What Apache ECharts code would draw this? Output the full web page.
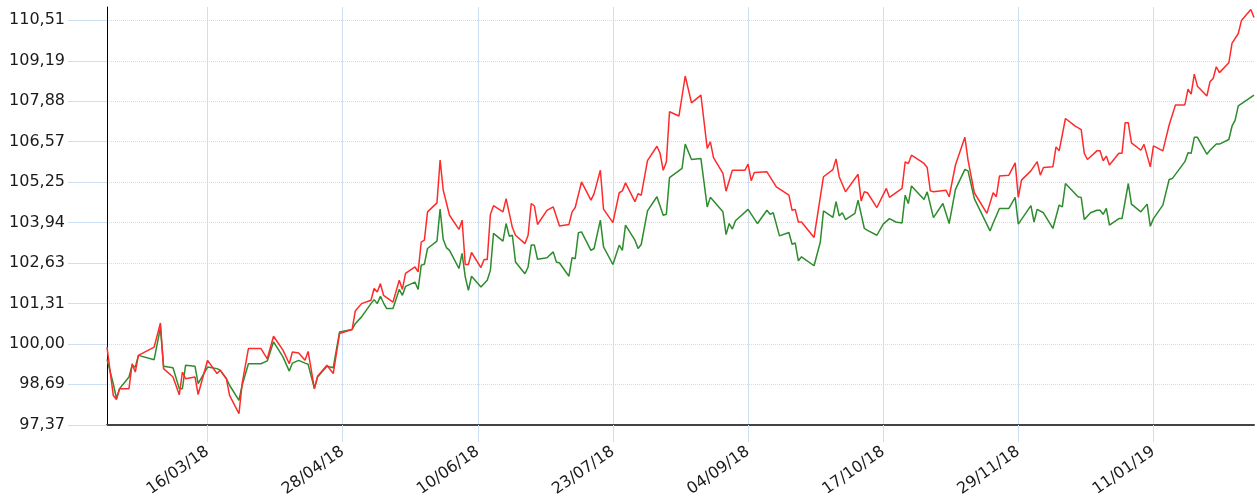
<!DOCTYPE html>
<html>
<head>
<meta charset="utf-8">
<script src="https://cdn.jsdelivr.net/npm/echarts@6/dist/echarts.min.js"></script>
<style>
  html, body { margin: 0; padding: 0; background: #fff; }
  #container { width: 1257px; height: 504px; }
</style>
</head>
<body>
<div id="container"></div>
<script>
// first day shown on the x axis, and how many calendar days the axis spans
var startDate = [2018, 1, 12];
var dayCount = 366;

var xTickLabels = ['16/03/18', '28/04/18', '10/06/18', '23/07/18', '04/09/18', '17/10/18', '29/11/18', '11/01/19'];
var yTickValues = [97.37, 98.69, 100.00, 101.31, 102.63, 103.94, 105.25, 106.57, 107.88, 109.19, 110.51];
var yMax = 110.94;

// days counted from startDate
var redDays = [0, 2, 3, 4, 7, 8, 9, 10, 15, 17, 18, 21, 23, 24, 25, 28, 29, 32, 35, 36, 38, 39, 42, 43, 45, 49, 51, 53, 56, 58, 59, 61, 63, 64, 66, 67, 70, 72, 74, 78, 79, 81, 84, 85, 86, 87, 88, 91, 93, 94, 95, 98, 99, 100, 101, 102, 105, 106, 107, 109, 112, 113, 114, 115, 116, 119, 120, 121, 122, 123, 126, 127, 129, 130, 133, 134, 135, 136, 137, 140, 142, 144, 147, 148, 149, 151, 154, 155, 157, 158, 161, 163, 164, 165, 168, 169, 170, 172, 175, 176, 177, 178, 179, 182, 184, 186, 189, 191, 192, 193, 196, 197, 199, 203, 204, 205, 206, 210, 213, 217, 218, 219, 220, 221, 225, 228, 231, 232, 233, 235, 239, 240, 241, 242, 245, 248, 249, 253, 254, 255, 256, 260, 261, 262, 263, 267, 268, 270, 273, 274, 276, 280, 282, 283, 284, 287, 289, 290, 291, 294, 296, 297, 298, 301, 302, 303, 305, 308, 310, 311, 312, 315, 316, 317, 318, 319, 322, 323, 324, 325, 326, 329, 330, 332, 333, 336, 338, 340, 343, 344, 345, 346, 347, 350, 351, 352, 353, 354, 357, 358, 360, 361, 364, 365];
var redValues = [99.90, 98.33, 98.20, 98.55, 98.55, 99.36, 99.09, 99.63, 99.90, 100.68, 99.20, 98.93, 98.35, 99.09, 98.87, 98.93, 98.36, 99.47, 99.04, 99.15, 98.87, 98.33, 97.74, 98.71, 99.85, 99.85, 99.52, 100.25, 99.80, 99.36, 99.74, 99.71, 99.47, 99.76, 98.55, 98.95, 99.31, 99.04, 100.34, 100.47, 101.07, 101.31, 101.42, 101.80, 101.69, 101.96, 101.58, 101.36, 102.07, 101.77, 102.29, 102.50, 102.34, 103.31, 103.37, 104.29, 104.58, 105.97, 104.99, 104.18, 103.72, 104.02, 102.58, 102.58, 102.97, 102.48, 102.74, 102.74, 104.20, 104.49, 104.29, 104.72, 103.78, 103.53, 103.26, 103.53, 104.56, 104.48, 103.88, 104.34, 104.45, 103.83, 103.88, 104.29, 104.43, 105.26, 104.67, 104.88, 105.64, 104.38, 103.94, 104.91, 104.97, 105.23, 104.62, 104.88, 104.83, 105.95, 106.42, 106.19, 105.64, 105.91, 107.54, 107.40, 108.70, 107.83, 108.08, 106.35, 106.56, 106.05, 105.54, 104.96, 105.64, 105.64, 105.84, 105.30, 105.57, 105.59, 105.10, 104.83, 104.34, 104.37, 103.96, 103.96, 103.46, 105.43, 105.66, 106.01, 105.43, 104.94, 105.51, 104.64, 104.94, 104.91, 104.43, 105.05, 104.76, 105.05, 105.91, 105.86, 106.13, 105.86, 105.73, 104.97, 104.94, 104.99, 104.78, 105.81, 106.71, 105.97, 104.91, 104.24, 104.91, 104.78, 105.45, 105.48, 105.88, 104.76, 105.32, 105.62, 105.92, 105.48, 105.73, 105.75, 106.40, 106.27, 107.32, 107.08, 106.96, 106.19, 105.99, 106.27, 106.27, 105.95, 106.10, 105.81, 106.19, 106.19, 107.18, 107.18, 106.53, 106.29, 106.48, 105.75, 106.43, 106.27, 107.11, 107.76, 107.76, 108.27, 108.11, 108.76, 108.37, 108.05, 108.51, 108.62, 109.00, 108.81, 109.13, 109.76, 110.08, 110.50, 110.86, 110.60];

var greenDays = [0, 2, 3, 4, 7, 8, 9, 10, 15, 17, 18, 21, 23, 24, 25, 28, 29, 32, 35, 36, 38, 39, 42, 43, 45, 49, 51, 53, 56, 58, 59, 61, 63, 64, 66, 67, 70, 72, 74, 78, 79, 81, 84, 85, 86, 87, 88, 89, 91, 93, 94, 95, 98, 99, 100, 101, 102, 105, 106, 107, 108, 109, 112, 113, 114, 115, 116, 119, 121, 122, 123, 126, 127, 128, 129, 130, 133, 134, 135, 136, 137, 140, 142, 143, 144, 147, 148, 149, 150, 151, 154, 155, 157, 158, 161, 163, 164, 165, 168, 169, 170, 172, 175, 177, 178, 179, 183, 184, 186, 189, 191, 192, 196, 197, 198, 199, 200, 204, 207, 210, 211, 212, 214, 217, 218, 219, 220, 221, 225, 227, 228, 231, 232, 233, 234, 235, 238, 239, 241, 242, 245, 247, 249, 251, 253, 254, 255, 256, 260, 261, 263, 266, 268, 270, 273, 274, 276, 281, 282, 284, 287, 289, 290, 294, 295, 296, 298, 301, 303, 304, 305, 309, 310, 311, 313, 315, 316, 317, 318, 319, 322, 323, 325, 326, 329, 331, 332, 333, 336, 338, 339, 343, 344, 345, 346, 347, 350, 351, 353, 354, 357, 358, 359, 360, 365];
var greenValues = [99.50, 98.71, 98.23, 98.55, 98.93, 99.31, 99.25, 99.63, 99.49, 100.53, 99.28, 99.23, 98.55, 98.55, 99.31, 99.28, 98.71, 99.25, 99.20, 99.15, 98.87, 98.66, 98.17, 98.66, 99.36, 99.36, 99.45, 100.07, 99.58, 99.12, 99.38, 99.47, 99.38, 99.34, 98.55, 98.93, 99.28, 99.23, 100.39, 100.47, 100.66, 100.88, 101.31, 101.44, 101.31, 101.55, 101.33, 101.15, 101.15, 101.77, 101.58, 101.87, 102.01, 101.77, 102.56, 102.59, 103.10, 103.34, 104.38, 103.39, 103.13, 103.04, 102.45, 102.94, 102.18, 101.74, 102.20, 101.85, 102.07, 102.39, 103.59, 103.34, 103.91, 103.50, 103.53, 102.66, 102.28, 102.50, 103.21, 103.21, 102.75, 102.80, 102.99, 102.66, 102.63, 102.20, 102.80, 102.77, 103.61, 103.64, 103.04, 103.10, 104.02, 103.15, 102.58, 103.21, 103.04, 103.86, 103.37, 103.10, 103.23, 104.32, 104.78, 104.18, 104.21, 105.40, 105.70, 106.49, 105.99, 106.02, 104.45, 104.76, 104.29, 103.55, 103.91, 103.73, 104.00, 104.37, 103.91, 104.34, 104.21, 104.26, 103.51, 103.62, 103.24, 103.28, 102.70, 102.83, 102.54, 103.31, 104.32, 104.11, 104.62, 104.16, 104.26, 104.04, 104.24, 104.67, 103.75, 103.69, 103.53, 103.89, 104.07, 103.96, 103.93, 104.83, 104.56, 105.13, 104.69, 104.94, 104.10, 104.56, 103.91, 105.02, 105.67, 105.62, 104.72, 103.67, 103.93, 104.40, 104.40, 104.76, 103.89, 104.49, 103.96, 104.37, 104.26, 103.75, 104.51, 104.45, 105.21, 104.78, 104.76, 104.04, 104.26, 104.34, 104.34, 104.21, 104.40, 103.86, 104.07, 104.07, 105.21, 104.54, 104.29, 104.54, 103.82, 104.07, 104.51, 105.34, 105.37, 105.92, 106.21, 106.19, 106.71, 106.71, 106.16, 106.29, 106.49, 106.49, 106.64, 107.07, 107.27, 107.73, 108.08];

function pad(n) { return n < 10 ? '0' + n : '' + n; }

var categories = [];
for (var i = 0; i < dayCount; i++) {
  var d = new Date(Date.UTC(startDate[0], startDate[1], startDate[2] + i));
  categories.push(pad(d.getUTCDate()) + '/' + pad(d.getUTCMonth() + 1) + '/' + String(d.getUTCFullYear()).slice(2));
}

function isTick(index) {
  return xTickLabels.indexOf(categories[index]) >= 0;
}

function pairs(days, values) {
  return days.map(function (day, i) { return [day, values[i]]; });
}

var gridBlue = '#cddff3';

var chart = echarts.init(document.getElementById('container'), null, { renderer: 'canvas' });

chart.setOption({
  animation: false,
  grid: { left: 107, right: 3, top: 7, bottom: 79, containLabel: false },
  xAxis: {
    type: 'category',
    data: categories,
    boundaryGap: false,
    axisLine: { onZero: false, lineStyle: { color: '#444', width: 2 } },
    axisTick: { show: true, interval: isTick, length: 17, lineStyle: { color: gridBlue, width: 1 } },
    axisLabel: {
      interval: isTick,
      rotate: 35,
      margin: 25,
      fontSize: 16,
      fontFamily: 'DejaVu Sans',
      color: '#1a1a1a'
    },
    splitLine: { show: true, interval: isTick, lineStyle: { color: gridBlue, width: 1 } }
  },
  yAxis: {
    type: 'value',
    min: yTickValues[0],
    max: yMax,
    axisLine: { show: true, lineStyle: { color: '#000', width: 1 } },
    axisTick: { show: true, length: 39, customValues: yTickValues, lineStyle: { color: gridBlue, width: 1 } },
    axisLabel: {
      customValues: yTickValues,
      margin: 42,
      fontSize: 16,
      fontFamily: 'DejaVu Sans',
      color: '#1a1a1a',
      formatter: function (v) { return v.toFixed(2).replace('.', ','); }
    },
    splitLine: { show: true, lineStyle: { type: 'dotted', color: gridBlue, width: 1 } }
  },
  series: [
    {
      type: 'line',
      data: pairs(greenDays, greenValues),
      symbol: 'none',
      lineStyle: { color: '#2d8c2d', width: 1.5 }
    },
    {
      type: 'line',
      data: pairs(redDays, redValues),
      symbol: 'none',
      lineStyle: { color: '#ff2b2b', width: 1.5 }
    }
  ]
});

window.addEventListener('resize', function () {
  chart.resize();
});
</script>
</body>
</html>
